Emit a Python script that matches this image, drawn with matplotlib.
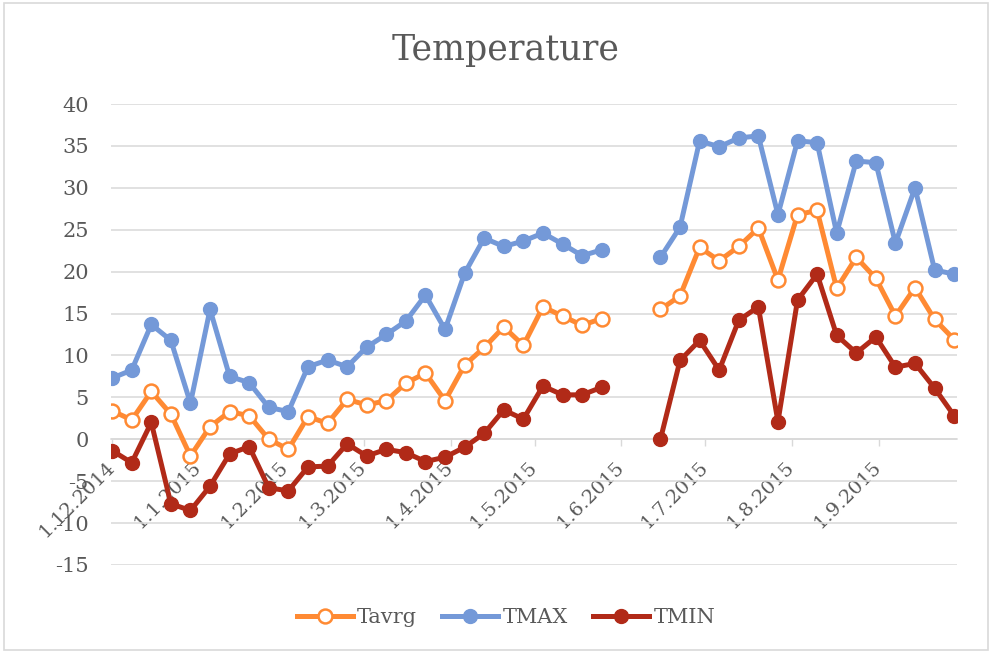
import numpy as np
import pandas as pd
import matplotlib
matplotlib.use("Agg")
import matplotlib.pyplot as plt
import matplotlib.dates as mdates
from matplotlib.patches import Rectangle

# weekly readings, two weeks in June are missing
weeks = pd.date_range("2014-12-01", periods=44, freq="7D")

tavrg = [3.4, 2.3, 5.7, 3.0, -2.0, 1.5, 3.3, 2.8, 0.0, -1.2,
         2.7, 1.9, 4.75, 4.1, 4.6, 6.7, 7.9, 4.6, 8.85, 10.95,
         13.4, 11.2, 15.8, 14.7, 13.6, 14.4, None, None,
         15.5, 17.1, 22.9, 21.3, 23.0, 25.2, 19.0, 26.8, 27.3, 18.0,
         21.7, 19.2, 14.7, 18.1, 14.3, 11.9]
tmax = [7.3, 8.25, 13.7, 11.8, 4.3, 15.5, 7.5, 6.75, 3.8, 3.3,
        8.65, 9.45, 8.65, 11.0, 12.5, 14.1, 17.2, 13.1, 19.8, 24.0,
        23.0, 23.65, 24.6, 23.3, 21.9, 22.6, None, None,
        21.7, 25.3, 35.6, 34.9, 35.95, 36.2, 26.8, 35.6, 35.4, 24.6,
        33.2, 33.0, 23.4, 30.0, 20.2, 19.7]
tmin = [-1.35, -2.8, 2.0, -7.7, -8.5, -5.6, -1.75, -0.87, -5.8, -6.15,
        -3.3, -3.2, -0.55, -2.0, -1.2, -1.6, -2.66, -2.14, -0.95, 0.7,
        3.5, 2.4, 6.35, 5.3, 5.3, 6.2, None, None,
        0.0, 9.4, 11.8, 8.25, 14.2, 15.8, 2.1, 16.6, 19.7, 12.4,
        10.3, 12.2, 8.6, 9.05, 6.1, 2.8]

series_names = ["Tavrg", "TMAX", "TMIN"]
y_ticks = list(range(-15, 45, 5))

plt.rcParams['font.family'] = 'DejaVu Serif'
plt.rcParams['axes.unicode_minus'] = False
grey_text = '#595959'
grid_col = '#d9d9d9'

fig = plt.figure(figsize=(9.92, 6.53), dpi=100)
ax = fig.add_axes([0.1119, 0.1348, 0.8528, 0.7059])


def arr(v):
    return np.array([np.nan if x is None else x for x in v], dtype=float)


ax.plot(weeks, arr(tavrg), color='#FF8A33', lw=3.6, marker='o', ms=10,
        mfc='white', mec='#FF8A33', mew=1.8, label=series_names[0], zorder=3)
ax.plot(weeks, arr(tmax), color='#7499D8', lw=3.6, marker='o', ms=10,
        label=series_names[1], zorder=3)
ax.plot(weeks, arr(tmin), color='#B12A18', lw=3.6, marker='o', ms=10,
        label=series_names[2], zorder=3)

# axes
ax.set_ylim(-15, 40)
ax.set_yticks(y_ticks)
ax.set_xlim(weeks[0] - pd.Timedelta(days=0.4), weeks[-1] + pd.Timedelta(days=1))
ax.xaxis.set_major_locator(mdates.MonthLocator(bymonthday=1))
ax.xaxis.set_major_formatter(
    plt.FuncFormatter(lambda v, pos: "{0.day}.{0.month}.{0.year}".format(mdates.num2date(v))))

ax.grid(axis='y', color=grid_col, lw=1.1)
ax.set_axisbelow(True)
for s in ['top', 'right', 'left']:
    ax.spines[s].set_visible(False)
ax.spines['bottom'].set_position(('data', 0))
ax.spines['bottom'].set_color(grid_col)
ax.spines['bottom'].set_linewidth(1.1)

ax.tick_params(axis='y', length=0, pad=16, labelsize=15, labelcolor=grey_text)
ax.tick_params(axis='x', length=5, width=1, color=grid_col, pad=13,
               labelsize=14, labelcolor=grey_text)
for lab in ax.get_xticklabels():
    lab.set_rotation(45)
    lab.set_ha('right')
    lab.set_va('center')
    lab.set_rotation_mode('anchor')

fig.text(0.51, 0.924, "Temperature", ha='center', va='center',
         fontsize=25, color=grey_text)

fig.legend(loc='center', bbox_to_anchor=(0.51, 0.054), ncol=3, frameon=False,
           fontsize=15, labelcolor=grey_text, handlelength=2.7,
           handletextpad=0.2, columnspacing=1.2)

# chart area border
fig.patches.append(Rectangle((0.004, 0.005), 0.992, 0.99, transform=fig.transFigure,
                             fill=False, edgecolor=grid_col, lw=1.2))

fig.savefig("out.png", dpi=100)
